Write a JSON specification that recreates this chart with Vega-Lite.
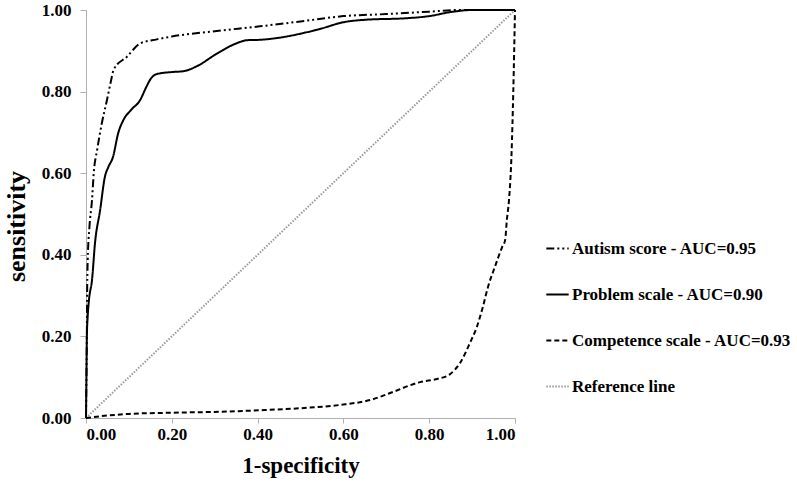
{
  "$schema": "https://vega.github.io/schema/vega-lite/v6.json",
  "width": 429,
  "height": 408,
  "autosize": {"type": "none"},
  "padding": {"left": 86, "top": 10, "right": 282, "bottom": 67},
  "background": "white",
  "config": {
    "view": {"stroke": null},
    "font": "Liberation Serif"
  },
  "data": {
    "values": [
      {"series": "Reference line", "fpr": 0, "tpr": 0},
      {"series": "Reference line", "fpr": 1, "tpr": 1},

      {"series": "Autism score - AUC=0.95", "fpr": 0, "tpr": 0},
      {"series": "Autism score - AUC=0.95", "fpr": 0.001, "tpr": 0.1},
      {"series": "Autism score - AUC=0.95", "fpr": 0.002, "tpr": 0.2},
      {"series": "Autism score - AUC=0.95", "fpr": 0.0025, "tpr": 0.29},
      {"series": "Autism score - AUC=0.95", "fpr": 0.004, "tpr": 0.387},
      {"series": "Autism score - AUC=0.95", "fpr": 0.008, "tpr": 0.468},
      {"series": "Autism score - AUC=0.95", "fpr": 0.014, "tpr": 0.534},
      {"series": "Autism score - AUC=0.95", "fpr": 0.018, "tpr": 0.6},
      {"series": "Autism score - AUC=0.95", "fpr": 0.026, "tpr": 0.657},
      {"series": "Autism score - AUC=0.95", "fpr": 0.037, "tpr": 0.723},
      {"series": "Autism score - AUC=0.95", "fpr": 0.049, "tpr": 0.78},
      {"series": "Autism score - AUC=0.95", "fpr": 0.057, "tpr": 0.82},
      {"series": "Autism score - AUC=0.95", "fpr": 0.065, "tpr": 0.855},
      {"series": "Autism score - AUC=0.95", "fpr": 0.095, "tpr": 0.885},
      {"series": "Autism score - AUC=0.95", "fpr": 0.126, "tpr": 0.918},
      {"series": "Autism score - AUC=0.95", "fpr": 0.165, "tpr": 0.928},
      {"series": "Autism score - AUC=0.95", "fpr": 0.2, "tpr": 0.935},
      {"series": "Autism score - AUC=0.95", "fpr": 0.3, "tpr": 0.948},
      {"series": "Autism score - AUC=0.95", "fpr": 0.405, "tpr": 0.96},
      {"series": "Autism score - AUC=0.95", "fpr": 0.5, "tpr": 0.972},
      {"series": "Autism score - AUC=0.95", "fpr": 0.6, "tpr": 0.985},
      {"series": "Autism score - AUC=0.95", "fpr": 0.7, "tpr": 0.99},
      {"series": "Autism score - AUC=0.95", "fpr": 0.8, "tpr": 0.996},
      {"series": "Autism score - AUC=0.95", "fpr": 0.87, "tpr": 1.0},
      {"series": "Autism score - AUC=0.95", "fpr": 1.0, "tpr": 1.0},

      {"series": "Problem scale - AUC=0.90", "fpr": 0, "tpr": 0},
      {"series": "Problem scale - AUC=0.90", "fpr": 0.001, "tpr": 0.1},
      {"series": "Problem scale - AUC=0.90", "fpr": 0.002, "tpr": 0.2},
      {"series": "Problem scale - AUC=0.90", "fpr": 0.004, "tpr": 0.25},
      {"series": "Problem scale - AUC=0.90", "fpr": 0.007, "tpr": 0.29},
      {"series": "Problem scale - AUC=0.90", "fpr": 0.014, "tpr": 0.338},
      {"series": "Problem scale - AUC=0.90", "fpr": 0.021, "tpr": 0.429},
      {"series": "Problem scale - AUC=0.90", "fpr": 0.033, "tpr": 0.51},
      {"series": "Problem scale - AUC=0.90", "fpr": 0.044, "tpr": 0.591},
      {"series": "Problem scale - AUC=0.90", "fpr": 0.052, "tpr": 0.615},
      {"series": "Problem scale - AUC=0.90", "fpr": 0.063, "tpr": 0.64},
      {"series": "Problem scale - AUC=0.90", "fpr": 0.075, "tpr": 0.698},
      {"series": "Problem scale - AUC=0.90", "fpr": 0.087, "tpr": 0.73},
      {"series": "Problem scale - AUC=0.90", "fpr": 0.105, "tpr": 0.755},
      {"series": "Problem scale - AUC=0.90", "fpr": 0.126, "tpr": 0.779},
      {"series": "Problem scale - AUC=0.90", "fpr": 0.14, "tpr": 0.81},
      {"series": "Problem scale - AUC=0.90", "fpr": 0.15, "tpr": 0.83},
      {"series": "Problem scale - AUC=0.90", "fpr": 0.165, "tpr": 0.843},
      {"series": "Problem scale - AUC=0.90", "fpr": 0.2, "tpr": 0.848},
      {"series": "Problem scale - AUC=0.90", "fpr": 0.227, "tpr": 0.85},
      {"series": "Problem scale - AUC=0.90", "fpr": 0.258, "tpr": 0.862},
      {"series": "Problem scale - AUC=0.90", "fpr": 0.305, "tpr": 0.893},
      {"series": "Problem scale - AUC=0.90", "fpr": 0.35, "tpr": 0.918},
      {"series": "Problem scale - AUC=0.90", "fpr": 0.375, "tpr": 0.926},
      {"series": "Problem scale - AUC=0.90", "fpr": 0.405, "tpr": 0.927},
      {"series": "Problem scale - AUC=0.90", "fpr": 0.45, "tpr": 0.932},
      {"series": "Problem scale - AUC=0.90", "fpr": 0.5, "tpr": 0.942},
      {"series": "Problem scale - AUC=0.90", "fpr": 0.55, "tpr": 0.955},
      {"series": "Problem scale - AUC=0.90", "fpr": 0.6, "tpr": 0.97},
      {"series": "Problem scale - AUC=0.90", "fpr": 0.65, "tpr": 0.976},
      {"series": "Problem scale - AUC=0.90", "fpr": 0.75, "tpr": 0.98},
      {"series": "Problem scale - AUC=0.90", "fpr": 0.8, "tpr": 0.985},
      {"series": "Problem scale - AUC=0.90", "fpr": 0.85, "tpr": 0.995},
      {"series": "Problem scale - AUC=0.90", "fpr": 0.9, "tpr": 1.0},
      {"series": "Problem scale - AUC=0.90", "fpr": 1.0, "tpr": 1.0},

      {"series": "Competence scale - AUC=0.93", "fpr": 0, "tpr": 0},
      {"series": "Competence scale - AUC=0.93", "fpr": 0.05, "tpr": 0.006},
      {"series": "Competence scale - AUC=0.93", "fpr": 0.1, "tpr": 0.01},
      {"series": "Competence scale - AUC=0.93", "fpr": 0.2, "tpr": 0.013},
      {"series": "Competence scale - AUC=0.93", "fpr": 0.3, "tpr": 0.015},
      {"series": "Competence scale - AUC=0.93", "fpr": 0.405, "tpr": 0.019},
      {"series": "Competence scale - AUC=0.93", "fpr": 0.5, "tpr": 0.024},
      {"series": "Competence scale - AUC=0.93", "fpr": 0.592, "tpr": 0.032},
      {"series": "Competence scale - AUC=0.93", "fpr": 0.662, "tpr": 0.044},
      {"series": "Competence scale - AUC=0.93", "fpr": 0.716, "tpr": 0.064},
      {"series": "Competence scale - AUC=0.93", "fpr": 0.755, "tpr": 0.08},
      {"series": "Competence scale - AUC=0.93", "fpr": 0.779, "tpr": 0.088},
      {"series": "Competence scale - AUC=0.93", "fpr": 0.82, "tpr": 0.096},
      {"series": "Competence scale - AUC=0.93", "fpr": 0.848, "tpr": 0.107},
      {"series": "Competence scale - AUC=0.93", "fpr": 0.872, "tpr": 0.135},
      {"series": "Competence scale - AUC=0.93", "fpr": 0.895, "tpr": 0.184},
      {"series": "Competence scale - AUC=0.93", "fpr": 0.911, "tpr": 0.223},
      {"series": "Competence scale - AUC=0.93", "fpr": 0.925, "tpr": 0.272},
      {"series": "Competence scale - AUC=0.93", "fpr": 0.937, "tpr": 0.321},
      {"series": "Competence scale - AUC=0.93", "fpr": 0.953, "tpr": 0.37},
      {"series": "Competence scale - AUC=0.93", "fpr": 0.97, "tpr": 0.419},
      {"series": "Competence scale - AUC=0.93", "fpr": 0.977, "tpr": 0.436},
      {"series": "Competence scale - AUC=0.93", "fpr": 0.981, "tpr": 0.485},
      {"series": "Competence scale - AUC=0.93", "fpr": 0.986, "tpr": 0.534},
      {"series": "Competence scale - AUC=0.93", "fpr": 0.992, "tpr": 0.65},
      {"series": "Competence scale - AUC=0.93", "fpr": 0.996, "tpr": 0.8},
      {"series": "Competence scale - AUC=0.93", "fpr": 1.0, "tpr": 1.0}
    ]
  },
  "mark": {"type": "line", "interpolate": "monotone"},
  "encoding": {
    "x": {
      "field": "fpr",
      "type": "quantitative",
      "scale": {"domain": [0, 1], "nice": false, "zero": false},
      "axis": {
        "title": "1-specificity",
        "values": [0, 0.2, 0.4, 0.6, 0.8, 1.0],
        "format": ".2f",
        "grid": false,
        "domainColor": "#b0b0b0",
        "tickColor": "#b0b0b0",
        "tickSize": 5,
        "labelFont": "Liberation Serif",
        "labelFontSize": 17,
        "labelFontWeight": "bold",
        "labelColor": "black",
        "labelPadding": 3,
        "titleFont": "Liberation Serif",
        "titleFontSize": 23,
        "titleFontWeight": "bold",
        "titleColor": "black",
        "titlePadding": 12
      }
    },
    "y": {
      "field": "tpr",
      "type": "quantitative",
      "scale": {"domain": [0, 1], "nice": false, "zero": false},
      "axis": {
        "title": "sensitivity",
        "values": [0, 0.2, 0.4, 0.6, 0.8, 1.0],
        "format": ".2f",
        "grid": false,
        "domainColor": "#b0b0b0",
        "tickColor": "#b0b0b0",
        "tickSize": 6,
        "labelFont": "Liberation Serif",
        "labelFontSize": 17,
        "labelFontWeight": "bold",
        "labelColor": "black",
        "labelPadding": 9,
        "titleFont": "Liberation Serif",
        "titleFontSize": 26,
        "titleFontWeight": "bold",
        "titleColor": "black",
        "titleX": -57,
        "titleY": 216
      }
    },
    "detail": {"field": "series", "type": "nominal"},
    "color": {
      "field": "series",
      "type": "nominal",
      "scale": {
        "domain": ["Autism score - AUC=0.95", "Problem scale - AUC=0.90", "Competence scale - AUC=0.93", "Reference line"],
        "range": ["black", "black", "black", "#9a9a9a"]
      },
      "legend": {
        "title": null,
        "orient": "none",
        "legendX": 459,
        "legendY": 226,
        "symbolType": "stroke",
        "symbolSize": 500,
        "rowPadding": 25,
        "labelFont": "Liberation Serif",
        "labelFontSize": 17,
        "labelFontWeight": "bold",
        "labelColor": "black",
        "labelOffset": 2,
        "labelLimit": 400
      }
    },
    "strokeDash": {
      "field": "series",
      "type": "nominal",
      "scale": {
        "domain": ["Autism score - AUC=0.95", "Problem scale - AUC=0.90", "Competence scale - AUC=0.93", "Reference line"],
        "range": [[8, 3, 2, 3, 2, 3], [1, 0], [5, 3], [1.5, 1.5]]
      },
      "legend": null
    },
    "strokeWidth": {
      "field": "series",
      "type": "nominal",
      "scale": {
        "domain": ["Autism score - AUC=0.95", "Problem scale - AUC=0.90", "Competence scale - AUC=0.93", "Reference line"],
        "range": [2, 2, 2.5, 0.8]
      },
      "legend": null
    }
  }
}
